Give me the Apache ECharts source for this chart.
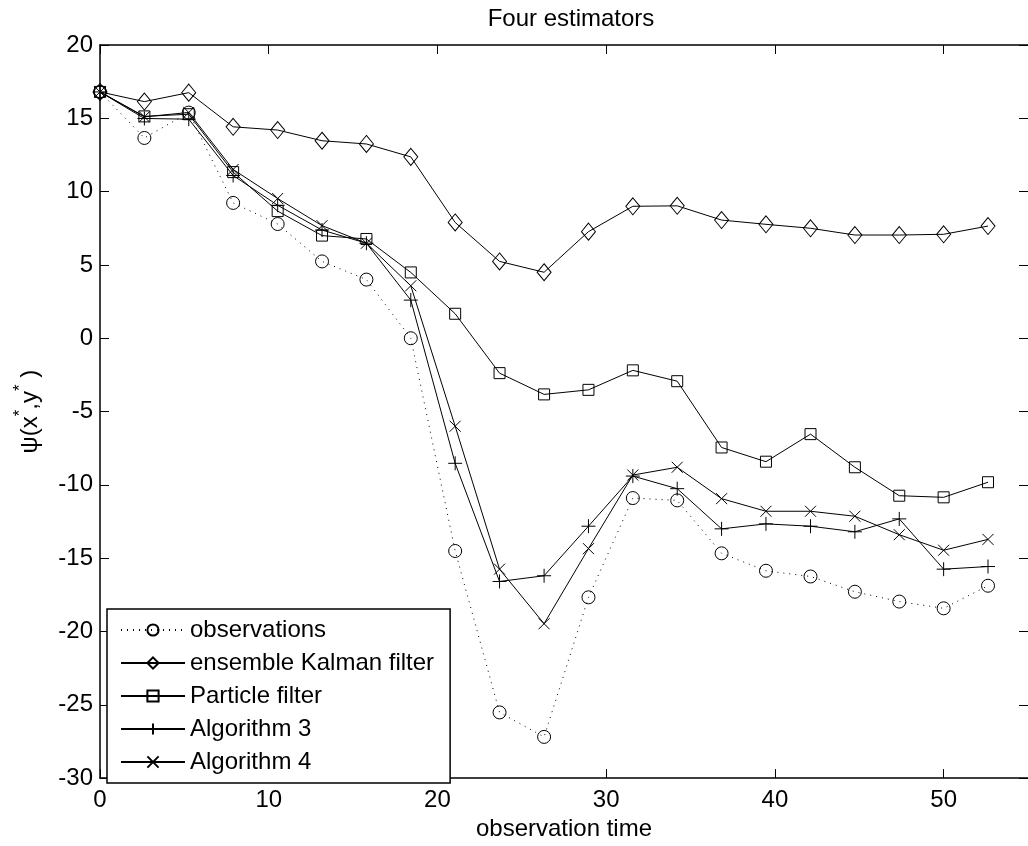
<!DOCTYPE html>
<html>
<head>
<meta charset="utf-8">
<script src="https://cdn.jsdelivr.net/npm/echarts@6/dist/echarts.min.js"></script>
<style>
html,body{margin:0;padding:0;background:#fff;}
#chart{width:1028px;height:846px;}
</style>
</head>
<body>
<div id="chart"></div>
<script>
// observation times (21 equally spaced times, 0 .. 52.6)
const times = [0, 2.63, 5.26, 7.89, 10.53, 13.16, 15.79, 18.42, 21.05, 23.68, 26.32,
               28.95, 31.58, 34.21, 36.84, 39.47, 42.11, 44.74, 47.37, 50.0, 52.63];
const observations = [16.8, 13.66, 15.39, 9.23, 7.79, 5.24, 4.0, 0.0, -14.51, -25.52, -27.19,
                      -17.67, -10.9, -11.06, -14.67, -15.86, -16.25, -17.29, -17.96, -18.42, -16.88];
const enkf = [16.8, 16.14, 16.75, 14.42, 14.2, 13.47, 13.25, 12.37, 7.9, 5.24, 4.5,
              7.27, 9.0, 9.03, 8.06, 7.77, 7.5, 7.04, 7.04, 7.09, 7.65];
const particle = [16.8, 15.13, 15.28, 11.33, 8.67, 7.0, 6.77, 4.49, 1.67, -2.38, -3.83,
                  -3.52, -2.19, -2.93, -7.45, -8.42, -6.54, -8.8, -10.74, -10.85, -9.82];
const alg3 = [16.8, 14.99, 14.94, 11.1, 9.07, 7.38, 6.48, 2.6, -8.53, -16.59, -16.2,
              -12.82, -9.4, -10.26, -13.0, -12.66, -12.82, -13.2, -12.32, -15.75, -15.57];
const alg4 = [16.8, 15.1, 15.4, 11.51, 9.53, 7.68, 6.48, 3.58, -6.0, -15.75, -19.47,
              -14.35, -9.33, -8.8, -10.94, -11.8, -11.8, -12.14, -13.4, -14.46, -13.72];
const seriesNames = ['observations', 'ensemble Kalman filter', 'Particle filter', 'Algorithm 3', 'Algorithm 4'];
const xTicks = {min: 0, max: 55, interval: 10};
const yTicks = {min: -30, max: 20, interval: 5};

const FONT = 'Liberation Sans';
const chart = echarts.init(document.getElementById('chart'), null, {renderer: 'canvas'});

function pairs(vals) { return vals.map((v, i) => [times[i], v]); }

const markerStyle = {color: 'rgba(0,0,0,0)', borderColor: '#000', borderWidth: 1};
function mkSeries(name, vals, symbol, size, dotted) {
  return {
    type: 'line', name: name, data: pairs(vals),
    symbol: symbol, symbolSize: size, showSymbol: true,
    lineStyle: {color: '#000', width: 1, type: dotted ? [1, 5] : 'solid'},
    itemStyle: markerStyle,
    emphasis: {disabled: true},
    silent: true, animation: false
  };
}

const PLUS = 'path://M0,5L10,5M5,0L5,10';
const CROSS = 'path://M0,0L10,10M10,0L0,10';

function axisCommon(showLine) {
  return {
    axisLine: {show: showLine, onZero: false, lineStyle: {color: '#000', width: 1.5}},
    axisTick: {show: true, inside: true, length: 9, lineStyle: {color: '#000', width: 1}},
    splitLine: {show: false}
  };
}

chart.setOption({
  animation: false,
  backgroundColor: '#fff',
  title: {
    text: 'Four estimators', left: 566, top: 2, textAlign: 'center',
    textStyle: {fontFamily: FONT, fontSize: 24, fontWeight: 'normal', color: '#000'}
  },
  grid: {left: 100, top: 45, width: 929.5, height: 738.5, containLabel: false},
  legend: {
    orient: 'vertical', left: 107, top: 609,
    data: seriesNames,
    selectedMode: false,
    backgroundColor: '#fff', borderColor: '#000', borderWidth: 1.5, borderRadius: 0,
    padding: [9, 16, 9, 13],
    itemWidth: 64, itemHeight: 14, itemGap: 9,
    textStyle: {fontFamily: FONT, fontSize: 24, color: '#000', lineHeight: 24}
  },
  xAxis: [
    Object.assign({
      type: 'value', position: 'bottom', min: xTicks.min, max: xTicks.max, interval: xTicks.interval,
      name: 'observation time', nameLocation: 'middle', nameGap: 36,
      nameTextStyle: {fontFamily: FONT, fontSize: 24, color: '#000'},
      axisLabel: {color: '#000', fontFamily: FONT, fontSize: 24, margin: 10, showMaxLabel: false}
    }, axisCommon(true)),
    Object.assign({
      type: 'value', position: 'top', min: xTicks.min, max: xTicks.max, interval: xTicks.interval,
      axisLabel: {show: false}
    }, axisCommon(true))
  ],
  yAxis: [
    Object.assign({
      type: 'value', position: 'left', min: yTicks.min, max: yTicks.max, interval: yTicks.interval,
      name: '{t|ψ(x}{s|*}{t|,y}{s|*}{t| )}', nameLocation: 'middle', nameGap: 52, nameRotate: 90,
      nameTextStyle: {
        fontFamily: FONT, color: '#000',
        rich: {
          t: {fontFamily: FONT, fontSize: 24, color: '#000', lineHeight: 36},
          s: {fontFamily: FONT, fontSize: 17, color: '#000', lineHeight: 17, verticalAlign: 'top'}
        }
      },
      axisLabel: {color: '#000', fontFamily: FONT, fontSize: 24, margin: 7}
    }, axisCommon(true)),
    Object.assign({
      type: 'value', position: 'right', min: yTicks.min, max: yTicks.max, interval: yTicks.interval,
      axisLabel: {show: false}
    }, axisCommon(false))
  ],
  series: [
    mkSeries(seriesNames[0], observations, 'circle', 13, true),
    mkSeries(seriesNames[1], enkf, 'diamond', [14, 17], false),
    mkSeries(seriesNames[2], particle, 'rect', 11, false),
    mkSeries(seriesNames[3], alg3, PLUS, 14, false),
    mkSeries(seriesNames[4], alg4, CROSS, 11, false)
  ]
});
</script>
</body>
</html>
